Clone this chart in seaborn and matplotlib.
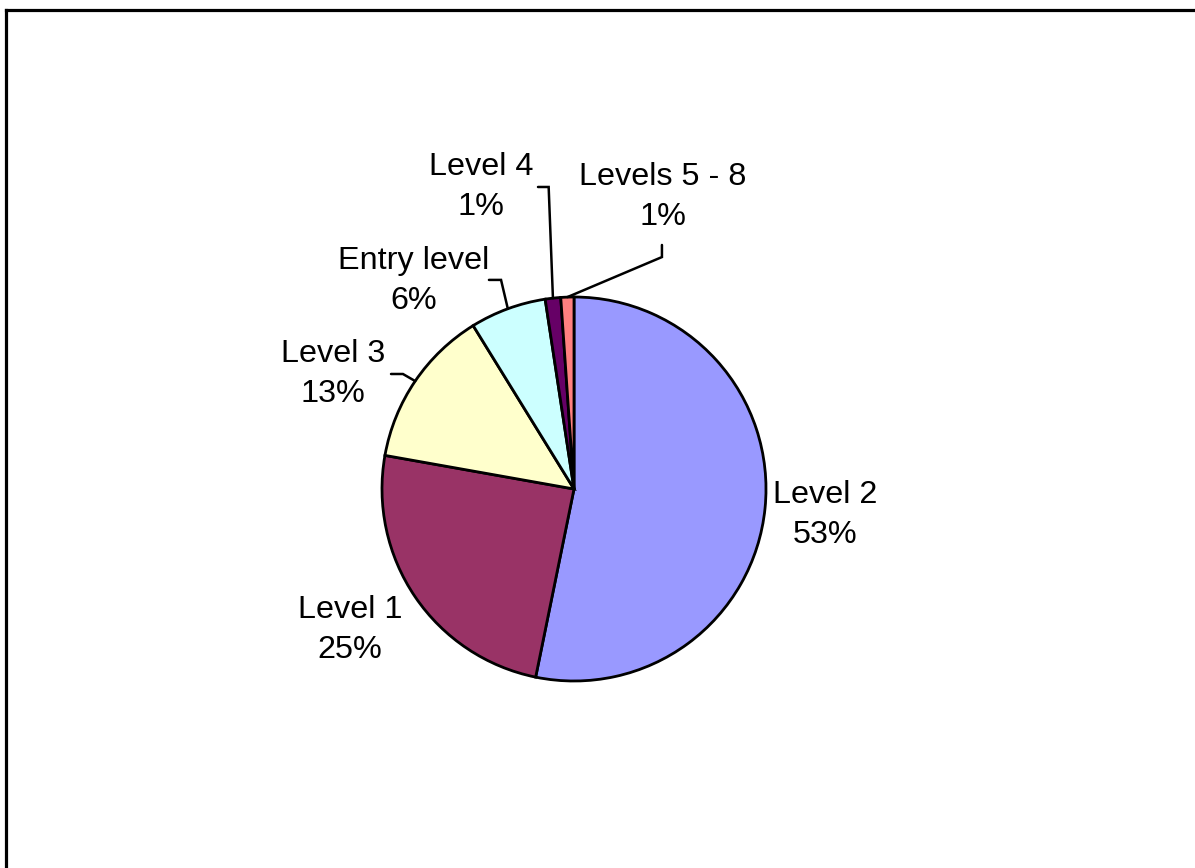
import numpy as np
import matplotlib
matplotlib.use("Agg")
import matplotlib.pyplot as plt
import seaborn as sns
from matplotlib.lines import Line2D

# data (clockwise from 12 o'clock)
levels = ["Level 2", "Level 1", "Level 3", "Entry level", "Level 4", "Levels 5 - 8"]
shares = [53.2, 24.6, 13.4, 6.4, 1.3, 1.1]
colors = ["#9999FF", "#993366", "#FFFFCC", "#CCFFFF", "#660066", "#FF8080"]

# label block centres (data units, radius = 1)
label_pos = [(1.307, -0.135), (-1.167, -0.734), (-1.255, 0.599),
             (-0.833, 1.083), (-0.484, 1.573), (0.464, 1.521)]
# leader lines: elbow points after the point on the rim (None = no leader)
leaders = [None, None,
           [(-0.891, 0.599), (-0.953, 0.599)],
           [(-0.380, 1.089), (-0.443, 1.089)],
           [(-0.132, 1.573), (-0.1875, 1.573)],
           [(0.458, 1.208), (0.458, 1.271)]]


def main():
    sns.set_theme(style="white")
    plt.rcParams['font.family'] = ['Liberation Sans', 'DejaVu Sans']

    fig = plt.figure(figsize=(11.95, 8.68), dpi=100)
    fig.patch.set_facecolor("white")
    W, H = 1195, 868
    cx, cy, r = 574, 489, 192
    half = 300
    ax = fig.add_axes([(cx - half) / W, (H - cy - half) / H, 2 * half / W, 2 * half / H])
    lim = half / r

    wedges, _ = ax.pie(shares, colors=colors, startangle=90, counterclock=False,
                       radius=1, center=(0, 0),
                       wedgeprops=dict(edgecolor="black", linewidth=2))
    ax.set_xlim(-lim, lim)
    ax.set_ylim(-lim, lim)
    ax.set_aspect("equal")
    ax.axis("off")

    for i, w in enumerate(wedges):
        txt = f"{levels[i]}\n{round(shares[i]):.0f}%"
        x, y = label_pos[i]
        ax.text(x, y, txt, ha="center", va="center", fontsize=23.3,
                linespacing=1.42, color="black", clip_on=False)
        if leaders[i] is not None:
            mid = np.deg2rad((w.theta1 + w.theta2) / 2)
            pts = [(np.cos(mid), np.sin(mid))] + leaders[i]
            xs = [p[0] for p in pts]
            ys = [p[1] for p in pts]
            ax.plot(xs, ys, color="black", lw=1.8, clip_on=False,
                    solid_joinstyle="miter")

    # chart-area frame (only top and left edges visible)
    fx, fy = 6.5 / W, 1 - 10.3 / H
    fig.add_artist(Line2D([fx, fx], [fy, 0], transform=fig.transFigure,
                          color="black", lw=2.3, solid_capstyle="projecting"))
    fig.add_artist(Line2D([fx, 1], [fy, fy], transform=fig.transFigure,
                          color="black", lw=2.3, solid_capstyle="projecting"))

    plt.savefig("out.png", dpi=100)
    plt.close()


if __name__ == '__main__':
    main()
